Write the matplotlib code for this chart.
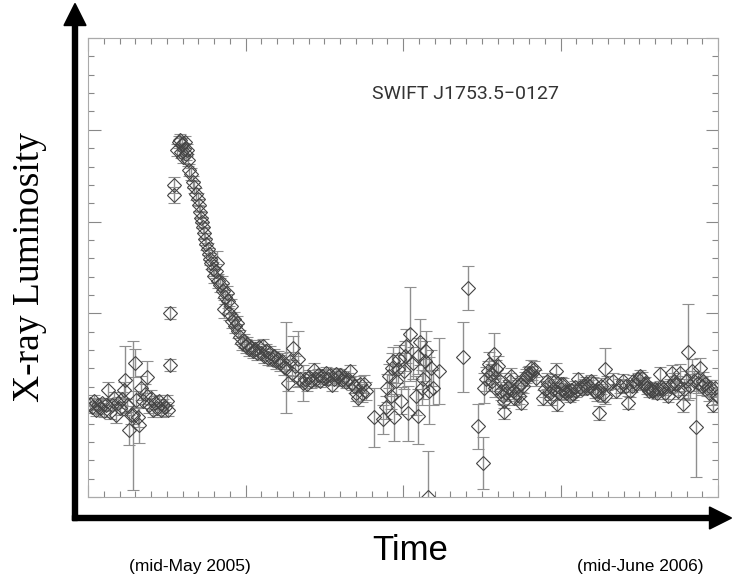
"""
light curve SWIFT J1753.5-0127 (valeurs lues sur l'image, unites arbitraires)
"""
import matplotlib
matplotlib.use('Agg')
import matplotlib.pyplot as plt
from matplotlib.ticker import MultipleLocator
from matplotlib.patches import FancyArrow

# temps (unites arbitraires, 0 = mi-mai 2005, 632 = mi-juin 2006)
t1 = [2, 4, 6, 8, 10, 12, 14, 16, 18, 20, 22, 24, 26, 28, 30, 32, 34, 36, 37, 39,
      41, 43, 45, 47, 48, 50, 51, 53, 55, 57, 59, 61, 63, 65, 67, 69, 71, 73, 75, 77,
      79, 80, 82, 82, 86, 86]
L1 = [94, 90, 97, 87, 93, 89, 95, 86, 92, 108, 85, 93, 100, 82, 95, 89, 99, 108, 118, 92,
      67, 82, 82, 135, 98, 80, 72, 110, 97, 104, 121, 92, 100, 87, 95, 89, 97, 87, 93, 90,
      97, 87, 133, 185, 314, 304]
e1 = [6, 6, 6, 6, 6, 6, 5, 6, 6, 8, 7, 6, 6, 8, 6, 7, 7, 8, 34, 7,
      15, 9, 75, 14, 9, 10, 18, 12, 8, 10, 16, 8, 8, 7, 7, 7, 6, 7, 6, 6,
      6, 6, 6, 6, 8, 8]

# pic et decroissance
t2 = [89, 91, 92, 93, 94, 95, 96, 97, 98, 99, 100, 101, 103, 105, 106, 108, 110, 111, 112, 113,
      114, 115, 116, 117, 118, 120, 121, 122, 123, 125, 126, 128, 129, 130, 132, 134, 135, 137, 139, 140,
      136, 141, 143, 144, 146, 147, 149, 150, 152, 154, 156, 158, 160, 162, 164, 166, 168, 170, 172, 174,
      176, 177, 179, 181, 183, 185, 187, 189, 191, 193, 195, 197]
L2 = [349, 357, 359, 347, 355, 342, 350, 357, 345, 349, 339, 329, 325, 317, 312, 305, 300, 294, 287, 281,
      276, 271, 265, 259, 254, 249, 244, 239, 235, 229, 222, 227, 235, 217, 213, 215, 207, 201, 205, 197,
      189, 185, 192, 177, 179, 172, 175, 167, 161, 155, 157, 152, 154, 149, 151, 147, 149, 145, 151, 145,
      152, 142, 147, 140, 145, 139, 142, 137, 139, 135, 137, 131]
e2 = [6, 6, 6, 6, 6, 6, 6, 6, 6, 6, 6, 6, 6, 6, 6, 6, 6, 6, 6, 6,
      6, 6, 6, 6, 6, 6, 6, 6, 6, 7, 7, 7, 12, 7, 7, 7, 7, 7, 7, 7,
      9, 7, 7, 7, 7, 7, 7, 7, 7, 7, 7, 7, 7, 7, 7, 7, 7, 7, 7, 7,
      7, 7, 7, 7, 7, 7, 7, 8, 8, 8, 8, 8]

# plateau
t3 = [199, 201, 203, 205, 206, 208, 211, 213, 216, 218, 220, 222, 224, 227, 229, 231, 233, 235, 237, 239,
      241, 243, 245, 247, 249, 251, 253, 255, 257, 259, 261, 263, 265, 267, 269, 271, 273, 275, 277, 279]
L3 = [130, 115, 137, 125, 150, 132, 139, 119, 115, 119, 114, 121, 117, 128, 119, 123, 117, 122, 120, 125,
      119, 123, 113, 119, 124, 121, 123, 118, 121, 116, 119, 127, 115, 112, 105, 100, 114, 105, 114, 107]
e3 = [46, 8, 9, 8, 12, 10, 28, 7, 18, 7, 7, 7, 7, 7, 7, 6, 6, 6, 6, 6,
      6, 6, 6, 6, 6, 6, 6, 6, 6, 6, 6, 6, 7, 7, 8, 9, 8, 9, 9, 9]

# zone dispersee
t4 = [287, 296, 299, 300, 302, 304, 305, 306, 307, 309, 311, 312, 314, 317, 318, 319, 321, 323, 326, 329,
      331, 331, 333, 335, 336, 338, 339, 341, 342, 344, 346, 352, 376, 381, 391, 396]
L4 = [80, 78, 90, 110, 122, 102, 130, 137, 80, 117, 129, 139, 97, 127, 142, 152, 84, 164, 135, 102,
      81, 142, 156, 110, 119, 137, 147, 0, 107, 130, 110, 127, 141, 210, 71, 34]
e4 = [30, 15, 12, 14, 12, 14, 15, 14, 24, 15, 14, 14, 14, 18, 15, 17, 28, 47, 16, 20,
      28, 18, 23, 18, 20, 20, 20, 46, 34, 18, 18, 33, 35, 22, 23, 26]

# fin de la serie
t5 = [397, 399, 401, 402, 404, 405, 407, 408, 409, 411, 413, 414, 416, 417, 417, 419, 421, 423, 424, 426,
      427, 429, 431, 432, 434, 434, 436, 438, 439, 441, 442, 444, 445, 447, 449, 456, 458, 460, 461, 463,
      464, 466, 468, 469, 470, 472, 474, 475, 477, 479, 480, 482, 484, 485, 487, 489, 490, 492, 494, 496,
      498, 500, 501, 503, 505, 507, 509, 511, 512, 513, 515, 517, 519, 519, 521, 527, 530, 534, 537, 540,
      542, 544, 546, 547, 550, 552, 554, 556, 558, 559, 561, 563, 564, 566, 567, 569, 571, 572, 574, 576,
      577, 579, 582, 584, 586, 588, 589, 591, 592, 594, 597, 598, 600, 602, 604, 606, 608, 610, 612, 614,
      616, 617, 619, 621, 623, 625, 627, 629, 631]
L5 = [110, 119, 127, 134, 124, 117, 144, 110, 129, 132, 117, 107, 102, 97, 85, 105, 110, 117, 122, 107,
      100, 105, 112, 102, 95, 114, 112, 119, 122, 124, 125, 130, 125, 129, 120, 100, 109, 117, 114, 105,
      100, 109, 117, 127, 94, 105, 114, 109, 114, 107, 105, 107, 102, 108, 104, 111, 107, 119, 111, 109,
      113, 115, 110, 112, 117, 115, 107, 104, 107, 84, 112, 104, 129, 102, 115, 117, 107, 112, 117, 112,
      95, 107, 112, 117, 114, 119, 122, 120, 114, 115, 110, 107, 110, 107, 107, 109, 105, 109, 124, 111,
      109, 105, 102, 112, 125, 117, 114, 114, 107, 125, 94, 109, 117, 146, 112, 127, 117, 70, 115, 130,
      112, 117, 114, 110, 105, 110, 93, 110, 102]
e5 = [15, 12, 10, 12, 10, 10, 21, 9, 9, 10, 8, 9, 8, 8, 7, 8, 8, 8, 8, 8,
      8, 8, 8, 8, 7, 8, 7, 7, 7, 7, 7, 8, 7, 8, 8, 8, 8, 8, 8, 7,
      8, 7, 7, 8, 8, 7, 7, 6, 6, 6, 6, 6, 6, 6, 6, 6, 6, 6, 6, 6,
      6, 6, 6, 6, 6, 6, 7, 7, 7, 7, 8, 8, 21, 8, 7, 8, 7, 7, 7, 6,
      7, 6, 6, 6, 6, 6, 6, 6, 6, 6, 6, 6, 6, 6, 6, 6, 6, 6, 7, 6,
      6, 6, 6, 7, 8, 8, 8, 8, 8, 9, 9, 10, 10, 48, 12, 12, 10, 50, 10, 10,
      9, 9, 8, 8, 8, 8, 8, 8, 8]

t = t1 + t2 + t3 + t4 + t5
L = L1 + L2 + L3 + L4 + L5
err = e1 + e2 + e3 + e4 + e5

fig = plt.figure(figsize=(7.32, 5.79), dpi=100)
ax = fig.add_axes([88/732, 82/579, 630/732, 459/579])

ax.errorbar(t, L, yerr=err, fmt='D', ms=7.5, mfc='none', mec='#454545', mew=0.8,
            ecolor='#8f8f8f', elinewidth=1.0, capsize=4, capthick=1.0)

ax.set_xlim(0, 632)
ax.set_ylim(0, 461.5)
ax.xaxis.set_major_locator(MultipleLocator(158))
ax.xaxis.set_minor_locator(MultipleLocator(15.8))
ax.yaxis.set_major_locator(MultipleLocator(92.3))
ax.yaxis.set_minor_locator(MultipleLocator(18.46))
ax.tick_params(which='both', direction='in', top=True, right=True, color='#888888',
               labelbottom=False, labelleft=False)
ax.tick_params(which='major', length=9, width=0.8)
ax.tick_params(which='minor', length=4.5, width=0.8)
for s in ax.spines.values():
    s.set_color('#aaaaaa')
    s.set_linewidth(0.8)

ax.text(0.60, 0.878, 'SWIFT J1753.5\u22120127', transform=ax.transAxes, ha='center', va='center',
        fontsize=14, color='#333333', family=['Roboto', 'DejaVu Sans'])

# fleches des axes (en pouces)
tr = fig.dpi_scale_trans
fig.add_artist(FancyArrow(0.75, 0.585, 0, 4.95, width=0.05, head_width=0.22, head_length=0.22,
                          length_includes_head=False, color='black', transform=tr))
fig.add_artist(FancyArrow(0.725, 0.61, 6.37, 0, width=0.05, head_width=0.22, head_length=0.22,
                          length_includes_head=False, color='black', transform=tr))

fig.text(30/732, 1 - 267/579, 'X-ray Luminosity', rotation=90, ha='center', va='center',
         fontsize=27, family='Liberation Serif')
fig.text(410/732, 1 - 550/579, 'Time', ha='center', va='center', fontsize=25,
         family=['Liberation Sans Narrow', 'Liberation Sans'])
fig.text(190/732, 1 - 567/579, '(mid-May 2005)', ha='center', va='center', fontsize=12.5,
         family='Liberation Sans')
fig.text(640/732, 1 - 567/579, '(mid-June 2006)', ha='center', va='center', fontsize=12.5,
         family='Liberation Sans')

fig.savefig('out.png', dpi=100)
